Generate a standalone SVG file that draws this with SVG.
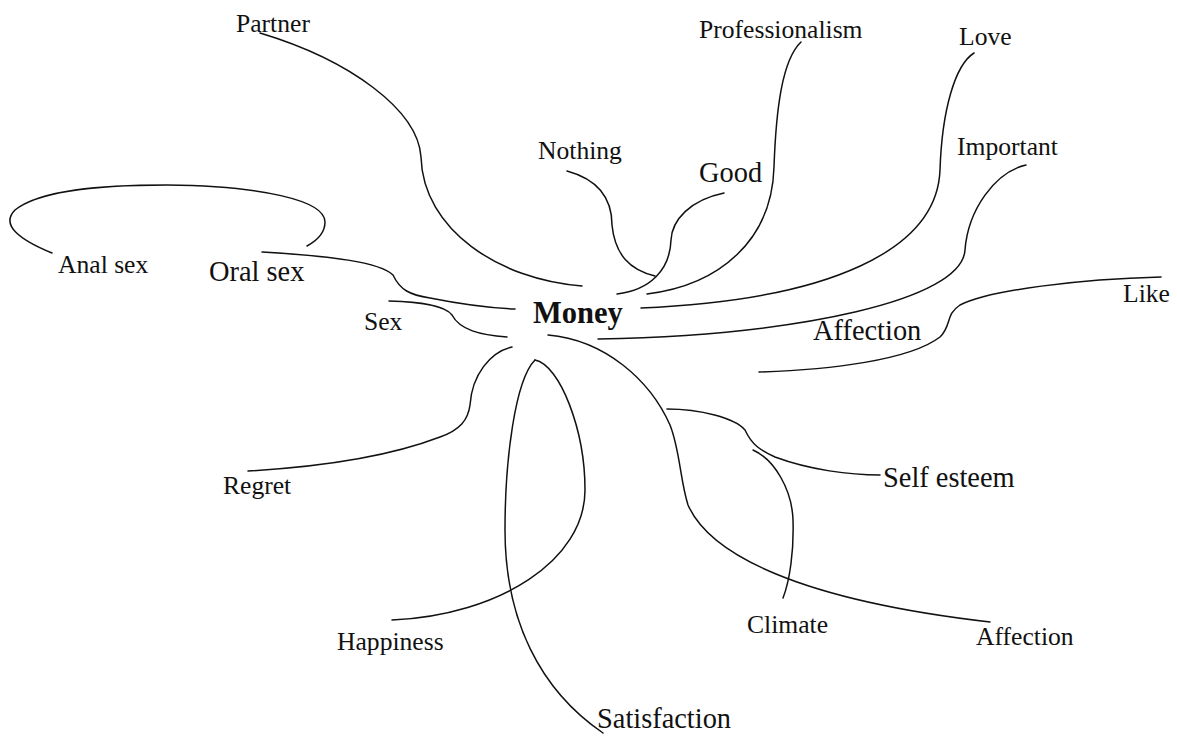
<svg xmlns="http://www.w3.org/2000/svg" width="1177" height="736" viewBox="0 0 1177 736">
<style>
.c{fill:none;stroke:#111;stroke-width:1.5;stroke-linecap:round}
.t{font-family:"Liberation Serif","Times New Roman",serif;fill:#111;font-size:25.6px}
.L{font-size:28.4px}
.m{font-size:30.5px;font-weight:bold}
</style>
<rect width="1177" height="736" fill="#fff"/>
<g id="connectors">
<path class="c" d="M52,253 C20,240 0,225 15,210 C40,190 100,185 167,185 C260,186 325,200 325,222 C325,232 318,240 307,246"/>
<path class="c" d="M262,252 C330,256 380,262 393,275 C400,290 410,295 430,298 C460,304 490,308 515,309"/>
<path class="c" d="M389,301 C420,302 445,305 452,315 C460,330 480,335 507,337"/>
<path class="c" d="M260,33 C350,60 418,110 421,157 C423,230 500,280 582,286"/>
<path class="c" d="M567,171 C600,180 612,200 612,225 C615,255 630,270 655,276"/>
<path class="c" d="M724,193 C690,200 672,220 671,240 C670,270 650,290 617,294"/>
<path class="c" d="M801,42 C782,60 776,110 774,167 C772,240 720,285 647,294"/>
<path class="c" d="M974,53 C955,65 942,110 940,170 C937,250 830,300 641,308"/>
<path class="c" d="M1026,165 C995,172 968,210 965,250 C962,300 800,335 598,339"/>
<path class="c" d="M1161,277 C1080,279 990,290 960,305 C945,315 952,325 940,337 C910,360 830,370 759,372"/>
<path class="c" d="M512,347 C490,352 472,375 470,405 C468,420 460,430 440,437 C380,460 300,468 248,471"/>
<path class="c" d="M535,360 C560,365 585,430 585,490 C585,560 500,615 392,620"/>
<path class="c" d="M535,360 C515,380 505,460 505,530 C505,620 540,690 603,733"/>
<path class="c" d="M548,335 C605,340 650,380 670,425 C680,450 680,480 688,505 C710,555 800,600 990,622"/>
<path class="c" d="M667,409 C700,409 735,418 745,430 C752,445 760,450 775,457 C810,470 850,475 880,475"/>
<path class="c" d="M753,450 C775,460 792,490 793,520 C794,550 790,580 783,598"/>
</g>
<g id="money"><text class="t m" x="533" y="323">Money</text></g>
<g id="partner"><text class="t" x="236" y="32">Partner</text></g>
<g id="professionalism"><text class="t" x="699" y="38">Professionalism</text></g>
<g id="love"><text class="t" x="959" y="45">Love</text></g>
<g id="nothing"><text class="t" x="538" y="159">Nothing</text></g>
<g id="good"><text class="t L" x="699" y="182">Good</text></g>
<g id="important"><text class="t" x="957" y="155">Important</text></g>
<g id="like"><text class="t" x="1123" y="302">Like</text></g>
<g id="affection1"><text class="t L" x="813" y="340">Affection</text></g>
<g id="analsex"><text class="t" x="58" y="273">Anal sex</text></g>
<g id="oralsex"><text class="t L" x="209" y="281">Oral sex</text></g>
<g id="sex"><text class="t" x="364" y="330">Sex</text></g>
<g id="regret"><text class="t" x="223" y="494">Regret</text></g>
<g id="happiness"><text class="t" x="337" y="650">Happiness</text></g>
<g id="satisfaction"><text class="t L" x="597" y="728">Satisfaction</text></g>
<g id="selfesteem"><text class="t L" x="883" y="487">Self esteem</text></g>
<g id="climate"><text class="t" x="747" y="633">Climate</text></g>
<g id="affection2"><text class="t" x="976" y="645">Affection</text></g>
</svg>
